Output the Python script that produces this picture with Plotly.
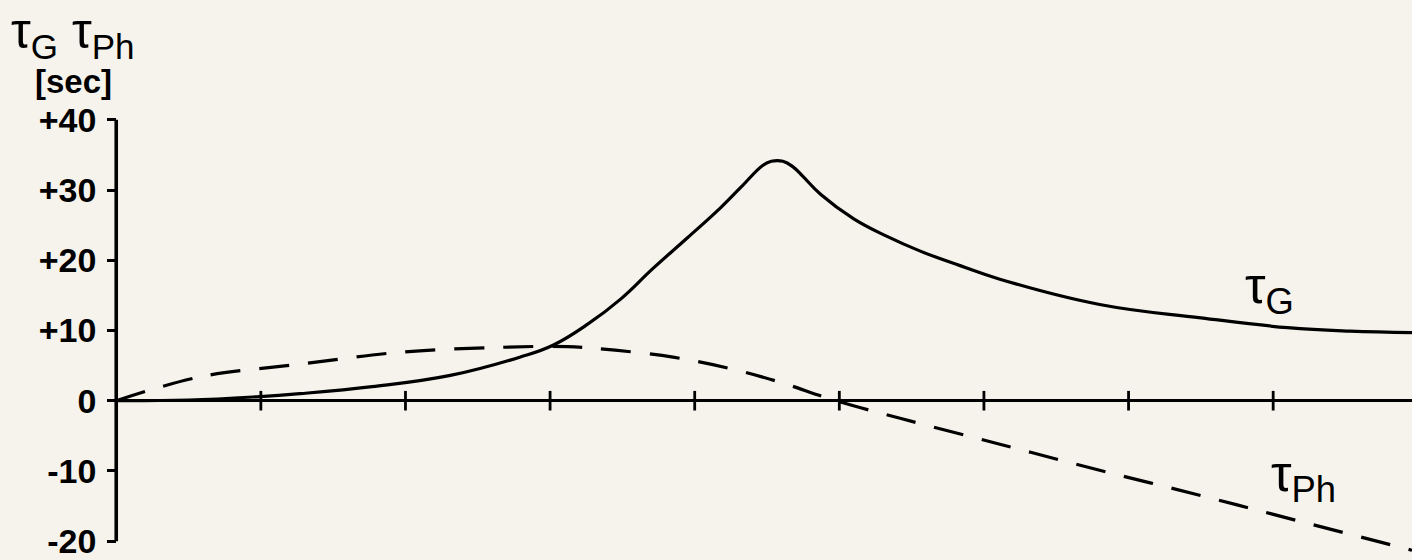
import plotly.graph_objects as go

# ---- data ----
tau_g_x = [0.0, 0.5, 0.97, 1.27, 1.77, 2.31, 2.79, 3.02, 3.26, 3.49, 3.71, 3.95, 4.18, 4.32,
           4.47, 4.53, 4.61, 4.68, 4.75, 4.87, 5.10, 5.33, 5.56, 5.84, 6.11, 6.80, 7.50, 8.10,
           8.53, 8.96]
tau_g_y = [0.0, 0.1, 0.56, 1.0, 2.0, 3.6, 6.2, 7.9, 10.9, 14.5, 18.8, 23.2, 27.5, 30.4,
           33.5, 34.1, 34.1, 33.3, 31.9, 29.4, 25.9, 23.4, 21.3, 19.2, 17.3, 13.7, 11.8, 10.4,
           9.9, 9.7]

tau_ph_x = [0.0, 0.58, 1.27, 1.96, 2.66, 3.12, 3.45, 3.85, 4.22, 4.58, 4.96, 5.42, 6.11, 6.80,
            7.50, 8.19, 8.96]
tau_ph_y = [0.0, 3.4, 5.2, 6.9, 7.6, 7.7, 7.2, 6.2, 4.7, 2.7, 0.1, -2.5, -6.2, -9.9,
            -13.5, -17.2, -21.3]

y_tick_vals = [-20, -10, 0, 10, 20, 30, 40]
y_tick_text = ["-20", "-10", "0", "+10", "+20", "+30", "+40"]
x_tick_vals = [1, 2, 3, 4, 5, 6, 7, 8]

# ---- layout geometry ----
W, H = 1412, 560
L, R, T, B = 109, 0, 100, 0
X_RANGE = [-0.05, 8.96]
Y_RANGE = [-21.97, 42.82]
BG = "#f6f3ed"
FONT = "Liberation Sans"


def px(xp):
    return (xp - L) / (W - L - R)


def py(yp):
    return (H - B - yp) / (H - T - B)


fig = go.Figure()

fig.add_trace(go.Scatter(
    x=tau_ph_x, y=tau_ph_y, mode="lines",
    line=dict(color="black", width=3.2, dash="30px,19px", shape="spline", smoothing=1.0),
    showlegend=False, hoverinfo="skip"))

fig.add_trace(go.Scatter(
    x=tau_g_x, y=tau_g_y, mode="lines",
    line=dict(color="black", width=3.2, shape="spline", smoothing=1.2),
    showlegend=False, hoverinfo="skip"))

# tick marks crossing the horizontal axis
fig.add_trace(go.Scatter(
    x=x_tick_vals, y=[0] * len(x_tick_vals), mode="markers",
    marker=dict(symbol="line-ns", size=14, line=dict(width=2.8, color="black")),
    showlegend=False, hoverinfo="skip", cliponaxis=False))

# vertical axis line from lowest to highest tick
fig.add_shape(type="line", xref="x", yref="y", x0=0, x1=0,
              y0=min(y_tick_vals), y1=max(y_tick_vals),
              line=dict(color="black", width=3.6), layer="above")

fig.update_layout(
    width=W, height=H,
    margin=dict(l=L, r=R, t=T, b=B, pad=0),
    paper_bgcolor=BG, plot_bgcolor=BG,
    font=dict(family=FONT, color="black", size=34),
    xaxis=dict(range=X_RANGE, showgrid=False, zeroline=False, showline=False,
               showticklabels=False, ticks=""),
    yaxis=dict(range=Y_RANGE, showgrid=False, zeroline=True, zerolinecolor="black",
               zerolinewidth=3.4, showline=False, anchor="free",
               position=(0 - X_RANGE[0]) / (X_RANGE[1] - X_RANGE[0]),
               tickmode="array", tickvals=y_tick_vals, ticktext=y_tick_text,
               ticks="outside", ticklen=9, tickwidth=3, tickcolor="black",
               ticklabelstandoff=4, ticklabeloverflow="allow",
               tickfont=dict(family=FONT, size=34, color="black", weight="bold")),
    annotations=[
        dict(xref="paper", yref="paper", x=px(9), y=py(0), xanchor="left", yanchor="top",
             text="τ<sub>G</sub> τ<sub>Ph</sub>", showarrow=False,
             font=dict(family=FONT, size=50, color="black")),
        dict(xref="paper", yref="paper", x=px(33), y=py(81), xanchor="left", yanchor="middle",
             text="[sec]", showarrow=False,
             font=dict(family=FONT, size=33, color="black", weight="bold")),
        dict(xref="paper", yref="paper", x=px(1243), y=py(256), xanchor="left", yanchor="top",
             text="τ<sub>G</sub>", showarrow=False,
             font=dict(family=FONT, size=52, color="black")),
        dict(xref="paper", yref="paper", x=px(1269), y=py(446), xanchor="left", yanchor="top",
             text="τ<sub>Ph</sub>", showarrow=False,
             font=dict(family=FONT, size=52, color="black")),
    ],
)

fig.write_html("out.html")
